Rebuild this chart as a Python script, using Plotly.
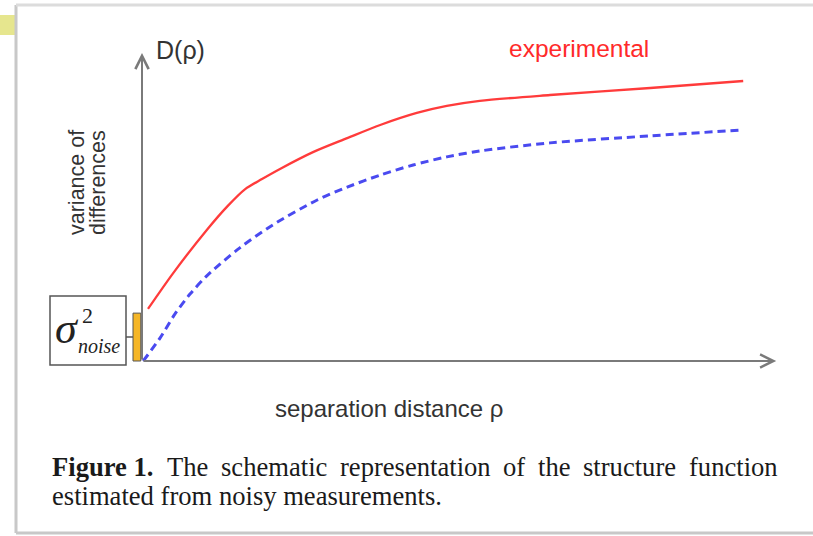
import plotly.graph_objects as go

# Schematic structure function: separation distance (arbitrary units) vs D(rho)
rho_exp = [0.010, 0.052, 0.108, 0.143, 0.172, 0.200, 0.230, 0.285, 0.342, 0.397, 0.458, 0.508, 0.563, 0.680, 0.847, 1.002]
d_exp = [0.186, 0.314, 0.468, 0.554, 0.614, 0.650, 0.686, 0.746, 0.796, 0.843, 0.886, 0.911, 0.929, 0.950, 0.975, 1.000]

rho_true = [0.002, 0.030, 0.055, 0.080, 0.108, 0.163, 0.218, 0.292, 0.342, 0.397, 0.452, 0.508, 0.563, 0.680, 0.847, 1.000]
d_true = [0.000, 0.082, 0.168, 0.239, 0.304, 0.404, 0.486, 0.575, 0.621, 0.664, 0.700, 0.729, 0.750, 0.779, 0.804, 0.825]

noise_var = 0.171          # height of the nugget (noise variance) bar
x_axis_end = 1.057
y_axis_end = 1.10

caption_line1 = ["<b>Figure 1.</b>", "The", "schematic", "representation", "of", "the", "structure", "function"]
caption_word_x = [50, 165, 219, 338, 501, 536, 581, 687]   # justified word starts
caption_line2 = "estimated from noisy measurements."

W, H = 813, 536


def px(x):
    return x / W


def py(y):
    return 1 - y / H


fig = go.Figure()

fig.add_trace(go.Scatter(
    x=rho_exp, y=d_exp, mode="lines",
    line=dict(color="#ff3b3b", width=2.3, shape="spline", smoothing=0.8),
    hoverinfo="skip", showlegend=False))
fig.add_trace(go.Scatter(
    x=rho_true, y=d_true, mode="lines",
    line=dict(color="#4a4af0", width=3, dash="8px,5px", shape="spline", smoothing=0.8),
    hoverinfo="skip", showlegend=False))

shapes = [
    # page frame
    dict(type="rect", xref="paper", yref="paper", x0=px(0), x1=px(15), y0=py(35), y1=py(15),
         fillcolor="#e6e68e", line=dict(width=0), layer="below"),
    dict(type="line", xref="paper", yref="paper", x0=px(16), x1=px(16), y0=py(5), y1=py(533),
         line=dict(color="#c8c8c8", width=3)),
    dict(type="line", xref="paper", yref="paper", x0=px(16), x1=1, y0=py(5), y1=py(5),
         line=dict(color="#dcdcdc", width=3)),
    dict(type="line", xref="paper", yref="paper", x0=px(16), x1=1, y0=py(533), y1=py(533),
         line=dict(color="#c8c8c8", width=3)),
    # noise variance bar at the origin
    dict(type="rect", xref="x", yref="y", x0=-0.015, x1=-0.002, y0=0, y1=noise_var,
         fillcolor="#f5b627", line=dict(color="#555555", width=1)),
    # sigma^2 label box and connector
    dict(type="rect", xref="paper", yref="paper", x0=px(50), x1=px(126), y0=py(365), y1=py(296),
         fillcolor="white", line=dict(color="#555555", width=1.5)),
    dict(type="line", xref="paper", yref="paper", x0=px(126), x1=px(133), y0=py(337), y1=py(337),
         line=dict(color="#555555", width=1.5)),
]

axis_col = "#7a7a7a"
sans = "Liberation Sans, Arial"
serif = "Liberation Serif, Times New Roman"

annotations = [
    # axes drawn as arrows
    dict(x=0, y=y_axis_end, ax=0, ay=0, xref="x", yref="y", axref="x", ayref="y",
         showarrow=True, arrowhead=5, arrowsize=1.3, arrowwidth=2, arrowcolor=axis_col, text=""),
    dict(x=x_axis_end, y=0, ax=0, ay=0, xref="x", yref="y", axref="x", ayref="y",
         showarrow=True, arrowhead=5, arrowsize=1.3, arrowwidth=2, arrowcolor=axis_col, text=""),
    dict(x=px(154), y=py(50), xref="paper", yref="paper", xanchor="left", yanchor="middle",
         text="D(ρ)", showarrow=False, font=dict(family=sans, size=25, color="#333333")),
    dict(x=px(507), y=py(48), xref="paper", yref="paper", xanchor="left", yanchor="middle",
         text="experimental", showarrow=False, font=dict(family=sans, size=24.5, color="#ff2a2a")),
    dict(x=px(77), y=py(183), xref="paper", yref="paper", xanchor="center", yanchor="middle",
         text="variance of", textangle=-90, showarrow=False,
         font=dict(family=sans, size=21.5, color="#333333")),
    dict(x=px(98), y=py(183), xref="paper", yref="paper", xanchor="center", yanchor="middle",
         text="differences", textangle=-90, showarrow=False,
         font=dict(family=sans, size=21.5, color="#333333")),
    dict(x=px(389), y=py(408), xref="paper", yref="paper", xanchor="center", yanchor="middle",
         text="separation distance ρ", showarrow=False,
         font=dict(family=sans, size=24, color="#333333")),
    # sigma^2 noise
    dict(x=px(67), y=py(328), xref="paper", yref="paper", xanchor="center", yanchor="middle",
         text="<i>σ</i>", showarrow=False, font=dict(family=serif, size=44, color="#222222")),
    dict(x=px(87), y=py(315), xref="paper", yref="paper", xanchor="center", yanchor="middle",
         text="2", showarrow=False, font=dict(family=serif, size=22, color="#222222")),
    dict(x=px(99), y=py(346), xref="paper", yref="paper", xanchor="center", yanchor="middle",
         text="<i>noise</i>", showarrow=False, font=dict(family=serif, size=20, color="#222222")),
    # caption line 2
    dict(x=px(50), y=py(496), xref="paper", yref="paper", xanchor="left", yanchor="middle",
         text=caption_line2, showarrow=False, font=dict(family=serif, size=26.6, color="#1a1a1a")),
]

# caption line 1, justified word by word
for word, wx in zip(caption_line1, caption_word_x):
    annotations.append(dict(
        x=px(wx), y=py(467), xref="paper", yref="paper", xanchor="left", yanchor="middle",
        text=word, showarrow=False, font=dict(family=serif, size=26.6, color="#1a1a1a")))

fig.update_layout(
    width=W, height=H, margin=dict(l=0, r=0, t=0, b=0),
    paper_bgcolor="white", plot_bgcolor="white",
    xaxis=dict(range=[-142 / 600, 671 / 600], visible=False, fixedrange=True),
    yaxis=dict(range=[-175 / 280, 361 / 280], visible=False, fixedrange=True),
    shapes=shapes, annotations=annotations,
)

fig.write_html("out.html")
